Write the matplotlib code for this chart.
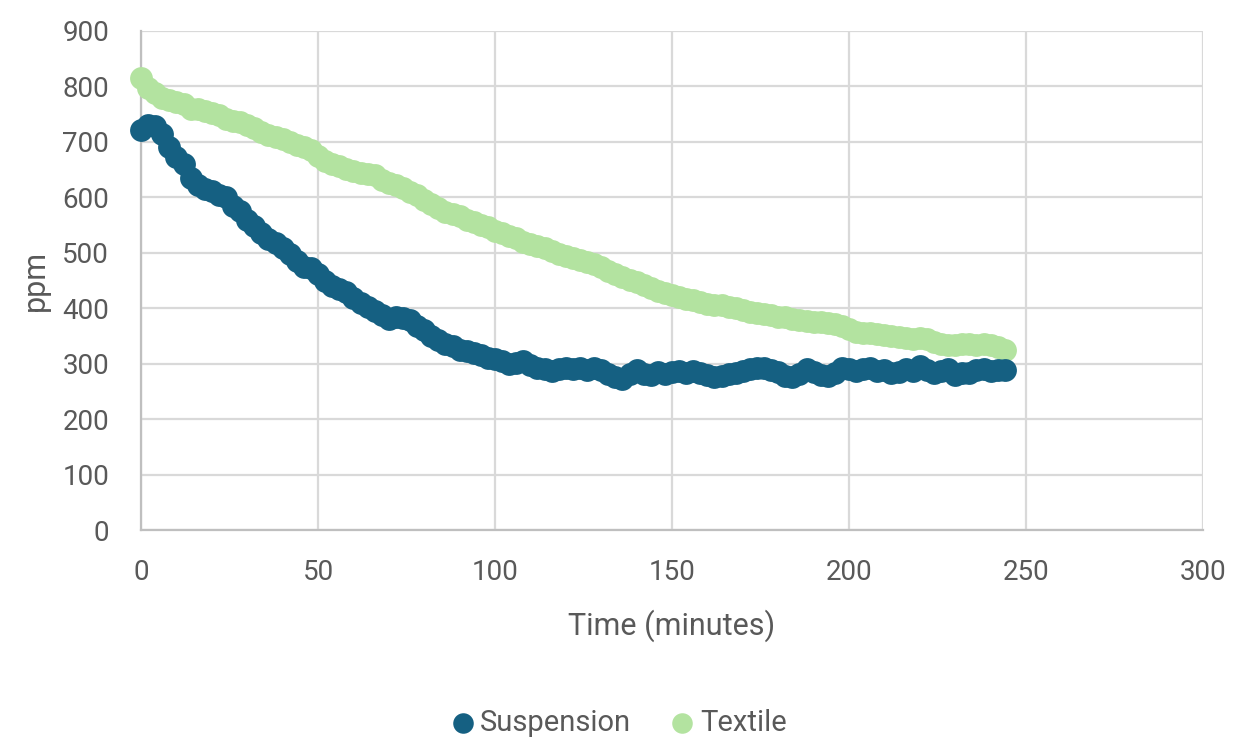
import numpy as np
import matplotlib
matplotlib.use("Agg")
import matplotlib.pyplot as plt

# Sampling times (minutes)
time_min = np.arange(0, 245, 2)

suspension_ppm = [
    722, 730, 728, 715, 690, 672, 660, 635, 622, 615,
    612, 605, 600, 585, 575, 560, 548, 535, 525, 518,
    508, 498, 485, 475, 472, 462, 450, 440, 435, 430,
    418, 410, 402, 395, 388, 380, 385, 383, 378, 368,
    360, 350, 342, 335, 332, 325, 322, 320, 316, 310,
    308, 305, 300, 302, 305, 298, 293, 290, 287, 290,
    292, 290, 293, 288, 292, 288, 282, 276, 272, 282,
    288, 282, 280, 285, 282, 285, 287, 283, 286, 284,
    280, 276, 278, 282, 284, 286, 290, 292, 292, 288,
    285, 278, 276, 282, 290, 285, 280, 278, 283, 292,
    290, 287, 290, 292, 286, 288, 283, 285, 290, 286,
    295, 288, 284, 287, 290, 280, 284, 283, 288, 290,
    286, 288, 289,
]

textile_ppm = [
    815, 798, 788, 780, 775, 772, 768, 760, 760, 755,
    752, 748, 742, 738, 735, 730, 725, 718, 712, 708,
    705, 700, 694, 690, 685, 675, 665, 660, 656, 652,
    648, 644, 642, 640, 632, 626, 622, 616, 610, 604,
    596, 588, 580, 574, 570, 566, 560, 555, 550, 546,
    540, 535, 530, 526, 520, 515, 512, 508, 504, 498,
    494, 490, 487, 484, 480, 474, 468, 462, 456, 451,
    447, 442, 436, 431, 427, 423, 420, 417, 414, 411,
    408, 406, 405, 403, 400, 397, 394, 391, 389, 387,
    385, 384, 381, 378, 377, 376, 375, 373, 371, 368,
    362, 358, 356, 355, 354, 352, 350, 348, 346, 344,
    346, 344, 340, 336, 334, 334, 336, 335, 333, 336,
    333, 330, 325,
]

x_ticks = [0, 50, 100, 150, 200, 250, 300]
y_ticks = [0, 100, 200, 300, 400, 500, 600, 700, 800, 900]

BLUE = "#156082"
GREEN = "#B3E3A0"
TEXT = "#595959"
GRID = "#D9D9D9"

plt.rcParams["font.family"] = ["Roboto", "DejaVu Sans"]

fig = plt.figure(figsize=(12.36, 7.38), dpi=100)
ax = fig.add_axes([0.1141, 0.2818, 0.9733 - 0.1141, 0.958 - 0.2818])

ax.scatter(time_min, textile_ppm, s=270, color=GREEN, linewidths=0, zorder=3,
           label="Textile", clip_on=False)
ax.scatter(time_min, suspension_ppm, s=270, color=BLUE, linewidths=0, zorder=4,
           label="Suspension", clip_on=False)

ax.set_xlim(0, 300)
ax.set_ylim(0, 900)
ax.set_xticks(x_ticks)
ax.set_yticks(y_ticks)
ax.grid(True, color=GRID, linewidth=1.6, zorder=0)
ax.set_axisbelow(True)
for side in ("top", "right"):
    ax.spines[side].set_visible(False)
for side in ("left", "bottom"):
    ax.spines[side].set_color("#BFBFBF")
    ax.spines[side].set_linewidth(1.6)
ax.tick_params(length=0, labelsize=20, labelcolor=TEXT)
ax.tick_params(axis="x", pad=21)
ax.tick_params(axis="y", pad=23)

ax.set_xlabel("Time (minutes)", fontsize=22, color=TEXT, labelpad=17)
ax.set_ylabel("ppm", fontsize=22, color=TEXT, labelpad=9)

handles, labels = ax.get_legend_handles_labels()
leg = fig.legend(handles[::-1], labels[::-1], loc="center", bbox_to_anchor=(0.5, 0.021),
                 ncol=2, frameon=False, fontsize=21, handlelength=0.9,
                 handletextpad=0.15, columnspacing=1.3, markerscale=0.9)
for t in leg.get_texts():
    t.set_color(TEXT)

fig.savefig("out.png", dpi=100, facecolor="white")
